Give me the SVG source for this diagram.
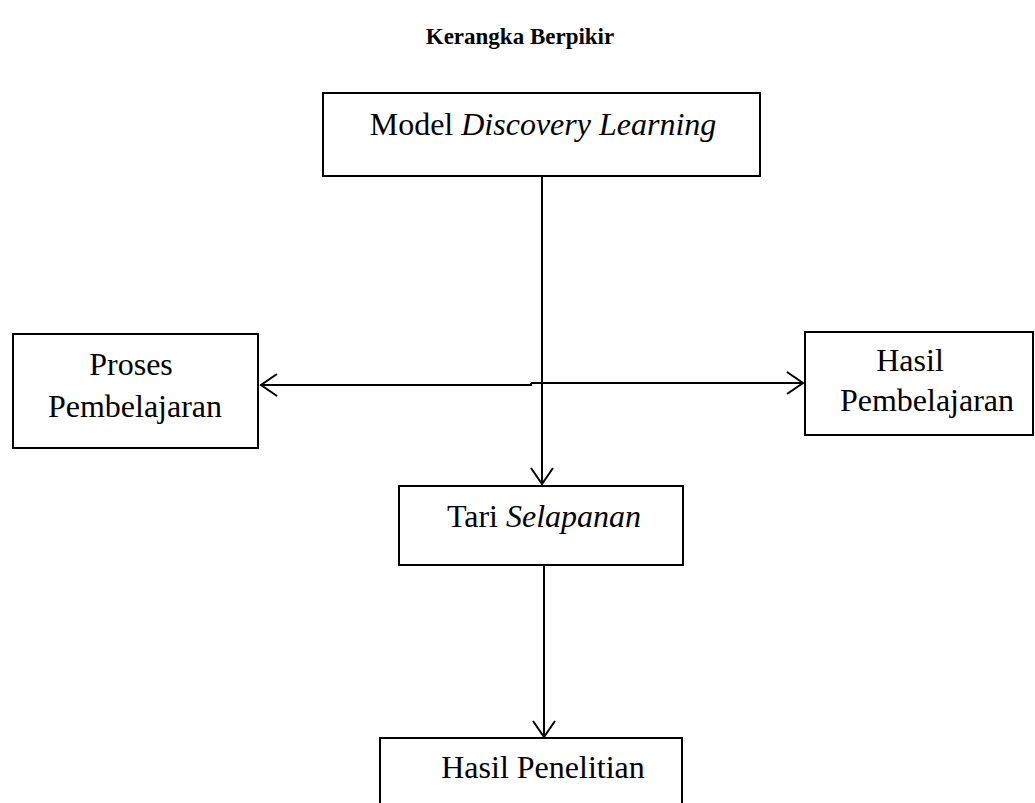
<svg xmlns="http://www.w3.org/2000/svg" width="1035" height="803" viewBox="0 0 1035 803">
  <style>
    .box { fill: #ffffff; stroke: #000000; stroke-width: 2; }
    .txt { font-family: "Liberation Serif", "Times New Roman", serif; font-size: 32px; fill: #000000; }
    .title { font-family: "Liberation Serif", "Times New Roman", serif; font-size: 23px; font-weight: bold; fill: #000000; }
    .conn { fill: none; stroke: #000000; stroke-width: 2; }
    .it { font-style: italic; }
  </style>
  <defs>
    <marker id="arrow" markerUnits="userSpaceOnUse" markerWidth="20" markerHeight="26" refX="17" refY="12" orient="auto">
      <polyline points="1,1 17,12 1,23" fill="none" stroke="#000000" stroke-width="2"/>
    </marker>
  </defs>
  <rect width="1035" height="803" fill="#ffffff"/>
  <text class="title" x="520" y="44" text-anchor="middle">Kerangka Berpikir</text>

  <g id="connectors">
    <line class="conn" x1="542" y1="176" x2="542" y2="484" marker-end="url(#arrow)"/>
    <polyline class="conn" points="531,383 531,385 261,385" marker-end="url(#arrow)"/>
    <line class="conn" x1="531" y1="383" x2="803" y2="383" marker-end="url(#arrow)"/>
    <line class="conn" x1="544" y1="565" x2="544" y2="737" marker-end="url(#arrow)"/>
  </g>

  <g id="node-model">
    <rect class="box" x="323" y="93" width="437" height="83"/>
    <text class="txt" x="543" y="135" text-anchor="middle">Model <tspan class="it">Discovery Learning</tspan></text>
  </g>
  <g id="node-proses">
    <rect class="box" x="13" y="334" width="245" height="114"/>
    <text class="txt" x="131" y="375" text-anchor="middle">Proses</text>
    <text class="txt" x="135" y="417" text-anchor="middle">Pembelajaran</text>
  </g>
  <g id="node-hasil-pembelajaran">
    <rect class="box" x="805" y="332" width="228" height="103"/>
    <text class="txt" x="910" y="371" text-anchor="middle">Hasil</text>
    <text class="txt" x="927" y="411" text-anchor="middle">Pembelajaran</text>
  </g>
  <g id="node-tari">
    <rect class="box" x="399" y="486" width="284" height="79"/>
    <text class="txt" x="544" y="527" text-anchor="middle">Tari <tspan class="it">Selapanan</tspan></text>
  </g>
  <g id="node-hasil-penelitian">
    <rect class="box" x="380" y="738" width="302" height="80"/>
    <text class="txt" x="543" y="778" text-anchor="middle">Hasil Penelitian</text>
  </g>
</svg>
